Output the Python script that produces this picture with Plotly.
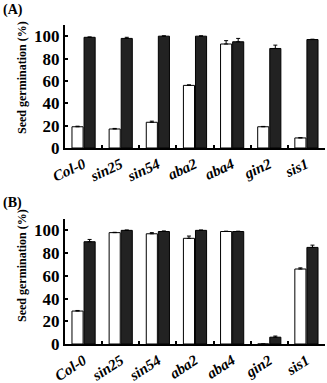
import plotly.graph_objects as go

categories = ["Col-0", "sin25", "sin54", "aba2", "aba4", "gin2", "sis1"]

a_white = [19, 17, 23, 56, 93, 19, 9]
a_white_err = [0.5, 0.5, 1, 0.5, 3, 0.3, 0.3]
a_black = [99, 98, 100, 100, 95, 89, 97]
a_black_err = [0.3, 1, 0.3, 0.3, 3, 3, 0.3]

b_white = [29, 98, 97, 93, 99, 0, 66]
b_white_err = [0.5, 0.3, 1, 2, 0.3, 0, 1]
b_black = [90, 100, 99, 100, 99, 6, 85]
b_black_err = [2, 0.3, 0.5, 0.3, 0.3, 1, 2]

yticks = [0, 20, 40, 60, 80, 100]
y_title = "Seed germination (%)"
panel_labels = ["(A)", "(B)"]

fig = go.Figure()
font_serif = "Liberation Serif, Times New Roman, serif"

def add_pair(white, werr, black, berr, xa, ya):
    fig.add_trace(go.Bar(
        x=categories, y=white, xaxis=xa, yaxis=ya,
        marker=dict(color="white", line=dict(color="black", width=1)),
        error_y=dict(type="data", symmetric=False, array=werr,
                     arrayminus=[0]*len(werr), color="black", thickness=1, width=2),
        showlegend=False, offsetgroup="w"))
    fig.add_trace(go.Bar(
        x=categories, y=black, xaxis=xa, yaxis=ya,
        marker=dict(color="#222222", line=dict(color="black", width=1)),
        error_y=dict(type="data", symmetric=False, array=berr,
                     arrayminus=[0]*len(berr), color="black", thickness=1, width=2),
        showlegend=False, offsetgroup="b"))

add_pair(a_white, a_white_err, a_black, a_black_err, "x", "y")
add_pair(b_white, b_white_err, b_black, b_black_err, "x2", "y2")

W, H = 327, 383
xdom = [65 / W, 325 / W]

xcommon = dict(
    type="category", range=[-0.5, 6.5], tickson="boundaries",
    ticks="inside", ticklen=3, tickwidth=1.5, tickcolor="black",
    showline=True, linecolor="black", linewidth=2, automargin=False,
    showgrid=False, zeroline=False,
    tickfont=dict(family=font_serif, size=15, color="black", weight="bold", style="italic"),
)
ycommon = dict(
    range=[0, 110], tickvals=yticks, ticks="inside", ticklen=3, tickwidth=1.5,
    tickcolor="black", showline=True, linecolor="black", linewidth=2,
    showgrid=False, zeroline=False, automargin=False,
    tickfont=dict(family=font_serif, size=17, color="black", weight="bold"),
)

def ann(text, x, y, size, angle=0, xanchor="left", yanchor="top"):
    return dict(text=text, x=x / W, y=1 - y / H, xref="paper", yref="paper",
                xanchor=xanchor, yanchor=yanchor, showarrow=False, textangle=angle,
                font=dict(family=font_serif, size=size, color="black", weight="bold"))

fig.update_layout(
    width=W, height=H, margin=dict(l=0, r=0, t=0, b=0),
    paper_bgcolor="white", plot_bgcolor="white",
    barmode="group", bargap=0.35, bargroupgap=0.08,
    xaxis=dict(domain=xdom, anchor="y", tickangle=-25, **xcommon),
    yaxis=dict(domain=[1 - 148 / H, 1 - 25 / H], anchor="x", **ycommon),
    xaxis2=dict(domain=xdom, anchor="y2", tickangle=-33, **xcommon),
    yaxis2=dict(domain=[1 - 344 / H, 1 - 219 / H], anchor="x2", **ycommon),
    annotations=[
        ann(panel_labels[0], 1, 0, 14),
        ann(panel_labels[1], 1, 193, 14),
        ann(y_title, 22, 78, 12, angle=-90, xanchor="center", yanchor="middle"),
        ann(y_title, 22, 266, 12, angle=-90, xanchor="center", yanchor="middle"),
    ],
)

fig.write_html(
    "out.html",
    config={"displayModeBar": False},
    post_script="document.body.style.margin='0';document.body.style.overflow='hidden';",
)
